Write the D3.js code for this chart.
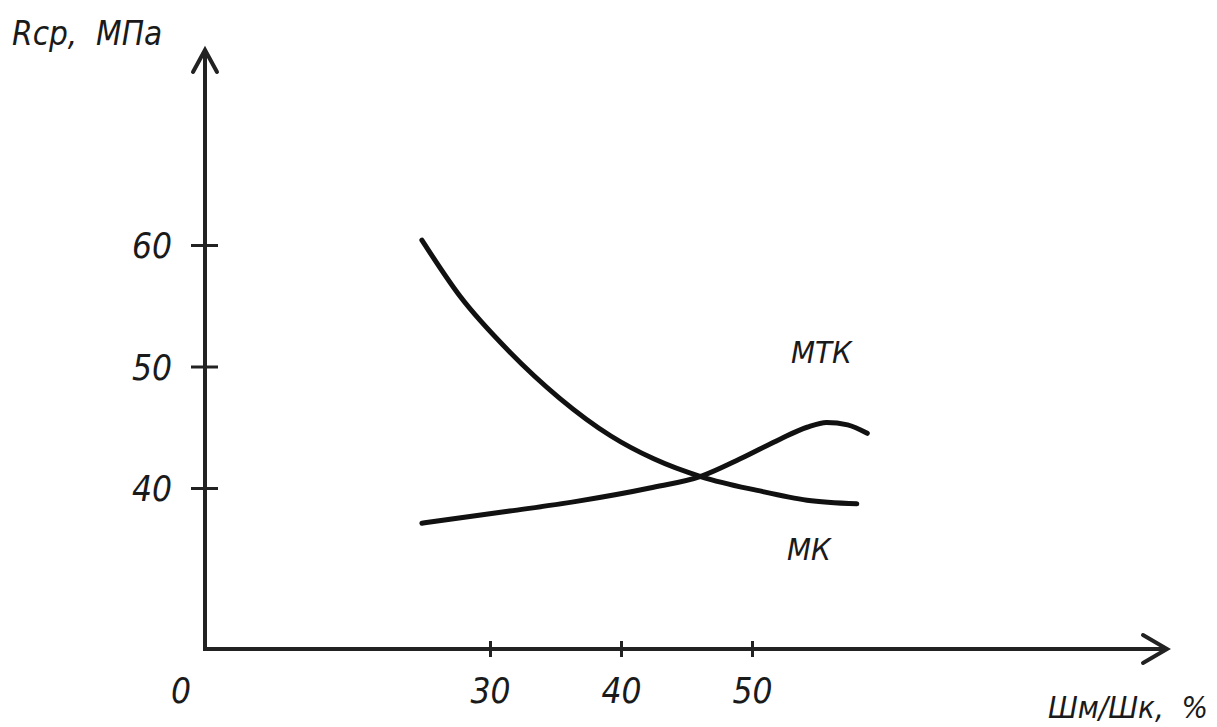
<!DOCTYPE html>
<html>
<head>
<meta charset="utf-8">
<script src="https://cdn.jsdelivr.net/npm/d3@7"></script>
<style>
  body { margin: 0; background: #fff; }
  text {
    font-family: "DejaVu Sans Condensed", "DejaVu Sans", sans-serif;
    font-stretch: condensed;
    font-style: oblique;
    fill: #1a1a1a;
    white-space: pre;
  }
</style>
</head>
<body>
<div id="chart"></div>
<script>
var svgWidth = 1217;
var svgHeight = 727;

// data
var xTicks = [30, 40, 50];
var yTicks = [40, 50, 60];

var mkX = [24.8, 27.7, 31.5, 35.3, 39.2, 42.5, 46.2, 50.4, 54.2, 58.0];
var mkY = [60.4, 55.8, 51.2, 47.4, 44.3, 42.4, 40.9, 39.8, 39.0, 38.7];

var mtkX = [24.8, 31.5, 36.6, 42.2, 46.2, 49.1, 52.1, 54.2, 55.7, 57.3, 58.8];
var mtkY = [37.1, 38.1, 38.9, 40.0, 41.0, 42.4, 44.0, 45.0, 45.4, 45.2, 44.5];

// layout
var origin = { x: 205, y: 649 };
var yTop = 50;
var xRight = 1167;

var svg = d3.select("#chart")
  .append("svg")
  .attr("width", svgWidth)
  .attr("height", svgHeight);

var xScale = d3.scaleLinear().domain([30, 50]).range([490, 752]);
var yScale = d3.scaleLinear().domain([40, 60]).range([488, 245]);

// axis lines with open arrow heads
svg.append("path")
  .attr("d", `M${origin.x},${yTop} L${origin.x},${origin.y} L${xRight},${origin.y}`)
  .attr("fill", "none")
  .attr("stroke", "#222")
  .attr("stroke-width", 4)
  .attr("stroke-linejoin", "miter");

svg.append("path")
  .attr("d", `M${origin.x - 12},${yTop + 22} L${origin.x},${yTop} L${origin.x + 12},${yTop + 22}`)
  .attr("fill", "none")
  .attr("stroke", "#222")
  .attr("stroke-width", 4)
  .attr("stroke-linecap", "round");

svg.append("path")
  .attr("d", `M${xRight - 24},${origin.y - 14} L${xRight},${origin.y} L${xRight - 24},${origin.y + 14}`)
  .attr("fill", "none")
  .attr("stroke", "#222")
  .attr("stroke-width", 4)
  .attr("stroke-linecap", "round");

// y axis ticks
var yAxis = svg.append("g")
  .attr("transform", `translate(${origin.x}, 0)`)
  .call(d3.axisLeft(yScale).tickValues(yTicks).tickSize(14).tickFormat(d3.format("d")));
yAxis.select(".domain").remove();
yAxis.selectAll(".tick line")
  .attr("x1", 13)
  .attr("stroke", "#222")
  .attr("stroke-width", 3);
yAxis.selectAll(".tick text")
  .attr("x", -33)
  .attr("dy", "0.36em")
  .attr("font-size", 35)
  .attr("fill", "#1a1a1a");

// x axis ticks
var xAxis = svg.append("g")
  .attr("transform", `translate(0, ${origin.y})`)
  .call(d3.axisBottom(xScale).tickValues(xTicks).tickSize(8).tickFormat(d3.format("d")));
xAxis.select(".domain").remove();
xAxis.selectAll(".tick line")
  .attr("y1", -8)
  .attr("stroke", "#222")
  .attr("stroke-width", 3);
xAxis.selectAll(".tick text")
  .attr("y", 54)
  .attr("dy", 0)
  .attr("font-size", 35)
  .attr("fill", "#1a1a1a");

svg.append("text")
  .attr("x", 181)
  .attr("y", 703)
  .attr("text-anchor", "middle")
  .attr("font-size", 35)
  .text("0");

// axis titles
svg.append("text")
  .attr("x", 12)
  .attr("y", 45)
  .attr("font-size", 33)
  .text("Rcp,  МПа");

svg.append("text")
  .attr("x", 1208)
  .attr("y", 718)
  .attr("text-anchor", "end")
  .attr("font-size", 31)
  .text("Шм/Шк,  %");

// curves
var line = d3.line()
  .x(d => xScale(d[0]))
  .y(d => yScale(d[1]))
  .curve(d3.curveMonotoneX);

svg.append("path")
  .datum(d3.zip(mkX, mkY))
  .attr("d", line)
  .attr("fill", "none")
  .attr("stroke", "#111")
  .attr("stroke-width", 5)
  .attr("stroke-linecap", "round");

svg.append("path")
  .datum(d3.zip(mtkX, mtkY))
  .attr("d", line)
  .attr("fill", "none")
  .attr("stroke", "#111")
  .attr("stroke-width", 5)
  .attr("stroke-linecap", "round");

// curve labels
svg.append("text")
  .attr("x", 791)
  .attr("y", 363)
  .attr("font-size", 31)
  .text("МТК");

svg.append("text")
  .attr("x", 787)
  .attr("y", 560)
  .attr("font-size", 31)
  .text("МК");
</script>
</body>
</html>
